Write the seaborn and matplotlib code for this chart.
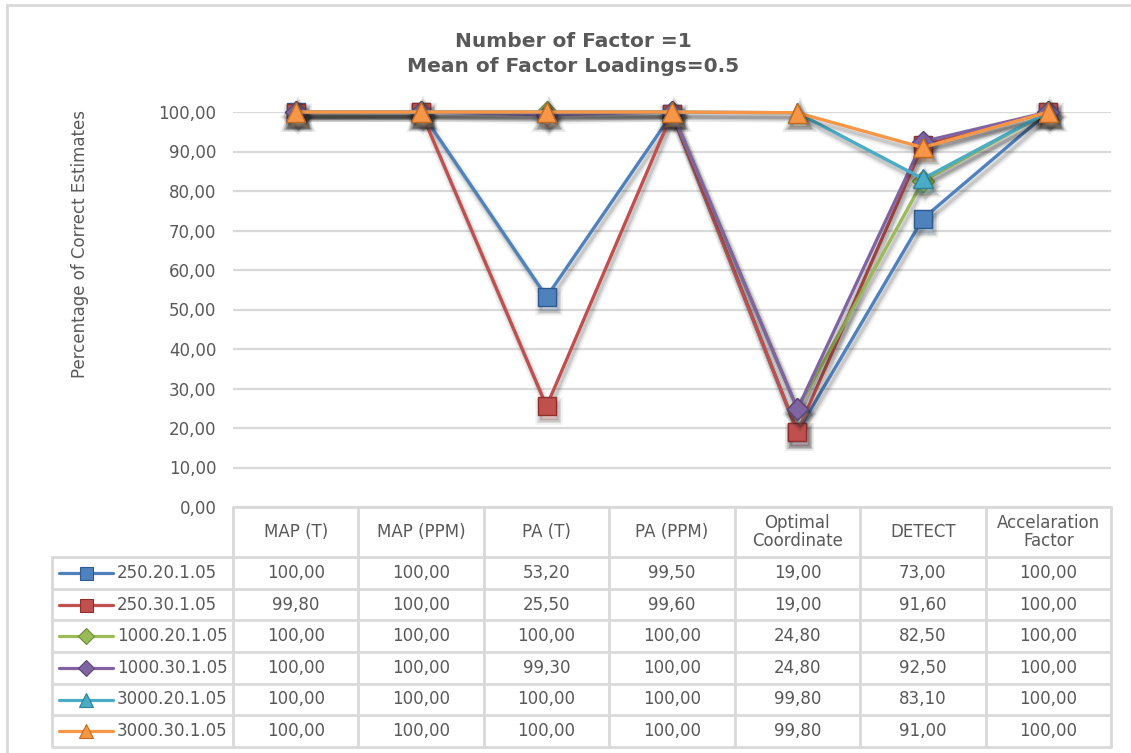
import matplotlib
matplotlib.use("Agg")
import matplotlib.pyplot as plt
import matplotlib.patheffects as pe
import matplotlib.transforms as mtransforms
from matplotlib.lines import Line2D
import numpy as np
import pandas as pd
import seaborn as sns

# ---- data ----
methods = ["MAP (T)", "MAP (PPM)", "PA (T)", "PA (PPM)",
           "Optimal\nCoordinate", "DETECT", "Accelaration\nFactor"]
series_names = ["250.20.1.05", "250.30.1.05", "1000.20.1.05",
                "1000.30.1.05", "3000.20.1.05", "3000.30.1.05"]
s_250_20 = [100.00, 100.00, 53.20, 99.50, 19.00, 73.00, 100.00]
s_250_30 = [99.80, 100.00, 25.50, 99.60, 19.00, 91.60, 100.00]
s_1000_20 = [100.00, 100.00, 100.00, 100.00, 24.80, 82.50, 100.00]
s_1000_30 = [100.00, 100.00, 99.30, 100.00, 24.80, 92.50, 100.00]
s_3000_20 = [100.00, 100.00, 100.00, 100.00, 99.80, 83.10, 100.00]
s_3000_30 = [100.00, 100.00, 100.00, 100.00, 99.80, 91.00, 100.00]
values = [s_250_20, s_250_30, s_1000_20, s_1000_30, s_3000_20, s_3000_30]

colors = ["#4F81BD", "#C0504D", "#9BBB59", "#8064A2", "#4BACC6", "#F79646"]
edges = ["#2C5A8E", "#8E2F2C", "#6B8A35", "#5A4478", "#2C8099", "#C46A1F"]
markers = ["s", "s", "D", "D", "^", "^"]
marker_sizes = [13, 13, 11, 11, 14, 14]

title = "Number of Factor =1\nMean of Factor Loadings=0.5"
ylabel = "Percentage of Correct Estimates"

TEXT = "#595959"
GRID = "#D9D9D9"
FS = 12

def fmt(v):
    return f"{v:.2f}".replace(".", ",")

df = pd.DataFrame({
    "x": np.tile(np.arange(len(methods)), len(series_names)),
    "value": np.concatenate(values),
    "series": np.repeat(series_names, len(methods)),
})

sns.set_theme(style="white")
plt.rcParams["font.family"] = ["DejaVu Sans"]

W, H = 1131, 753
fig = plt.figure(figsize=(W / 100, H / 100), dpi=100)

# plot area in pixel terms
left_px, right_px, top_px, bot_px = 233, 1111, 112, 507
ax = fig.add_axes([left_px / W, 1 - bot_px / H,
                   (right_px - left_px) / W, (bot_px - top_px) / H])

for i, name in enumerate(series_names):
    sub = df[df["series"] == name]
    sns.lineplot(data=sub, x="x", y="value", ax=ax, color=colors[i],
                 linewidth=2.4, marker=markers[i], markersize=marker_sizes[i],
                 markerfacecolor=colors[i], markeredgecolor=edges[i],
                 markeredgewidth=1.0, legend=False, zorder=3 + i)

# soft drop shadow below each series
shadow = [
    pe.Stroke(offset=(1.5, -3.5), linewidth=7, foreground="k", alpha=0.05),
    pe.Stroke(offset=(1.5, -3.5), linewidth=4.5, foreground="k", alpha=0.08),
    pe.Stroke(offset=(1.5, -3.5), linewidth=2.5, foreground="k", alpha=0.12),
    pe.Normal(),
]
for ln in ax.lines:
    ln.set_clip_on(False)
    ln.set_path_effects(shadow)

ax.set_xlim(-0.5, len(methods) - 0.5)
ax.set_ylim(0, 100)
ax.set_yticks(np.arange(0, 101, 10))
ax.set_yticklabels([fmt(v) for v in np.arange(0, 101, 10)],
                   fontsize=FS, color=TEXT)
ax.tick_params(axis="y", length=0, pad=12)
ax.set_xticks([])
ax.set_xlabel("")
ax.set_ylabel("")
ax.grid(axis="y", color=GRID, linewidth=1.6)
ax.set_axisbelow(True)
for sp in ax.spines.values():
    sp.set_visible(False)

fig.text(80 / W, 1 - 244 / H, ylabel,
         rotation=90, ha="center", va="center", fontsize=FS, color=TEXT)
fig.text(573 / W, 1 - 54 / H, title, ha="center", va="center",
         fontsize=14.5, fontweight="bold", color=TEXT, linespacing=1.45)

# ---- data table under the plot area ----
tr = mtransforms.blended_transform_factory(ax.transData, fig.transFigure)
col_w_px = (right_px - left_px) / len(methods)
legend_left = -0.5 - (left_px - 52) / col_w_px
header_bot = 557
row_h = (747 - header_bot) / len(series_names)

def fy(px):
    return 1 - px / H

line_kw = dict(color=GRID, linewidth=2, transform=tr, clip_on=False, zorder=1)

# horizontal rules
fig.add_artist(Line2D([-0.5, len(methods) - 0.5], [fy(bot_px)] * 2, **line_kw))
for r in range(len(series_names) + 1):
    yy = fy(header_bot + r * row_h)
    fig.add_artist(Line2D([legend_left, len(methods) - 0.5], [yy, yy], **line_kw))
# vertical rules
for k in range(len(methods) + 1):
    xx = -0.5 + k
    fig.add_artist(Line2D([xx, xx], [fy(bot_px), fy(747)], **line_kw))
fig.add_artist(Line2D([legend_left, legend_left], [fy(header_bot), fy(747)], **line_kw))

# header cells
for j, m in enumerate(methods):
    fig.text(j, fy((bot_px + header_bot) / 2), m, transform=tr,
             ha="center", va="center", fontsize=FS, color=TEXT, linespacing=1.05)

# body cells with legend keys
for i, name in enumerate(series_names):
    yc = fy(header_bot + (i + 0.5) * row_h)
    x0 = legend_left + 7 / col_w_px
    x1 = legend_left + 61 / col_w_px
    fig.add_artist(Line2D([x0, x1], [yc, yc], color=colors[i], linewidth=2.3,
                          transform=tr, clip_on=False))
    fig.add_artist(Line2D([(x0 + x1) / 2], [yc], marker=markers[i],
                          markersize=marker_sizes[i] * 0.72,
                          markerfacecolor=colors[i], markeredgecolor=edges[i],
                          markeredgewidth=0.8, transform=tr, clip_on=False))
    fig.text(legend_left + 65 / col_w_px, yc, name, transform=tr,
             ha="left", va="center", fontsize=FS, color=TEXT)
    for j, v in enumerate(values[i]):
        fig.text(j, yc, fmt(v), transform=tr, ha="center", va="center",
                 fontsize=FS, color=TEXT)

# outer chart frame
fig.add_artist(Line2D([7 / W, 7 / W], [0, fy(5)], color=GRID, linewidth=2,
                      transform=fig.transFigure))
fig.add_artist(Line2D([7 / W, 1], [fy(5), fy(5)], color=GRID, linewidth=2,
                      transform=fig.transFigure))

fig.savefig("out.png", dpi=100)
